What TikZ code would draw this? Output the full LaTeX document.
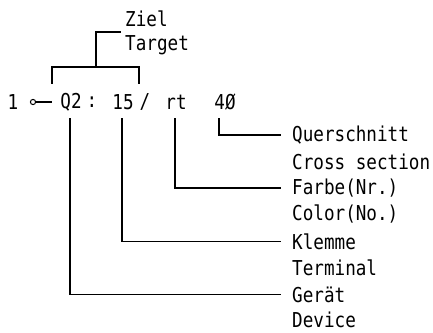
\documentclass[tikz,border=0pt]{standalone}
\usepackage{fontspec}
\setmainfont{DejaVu Sans Mono}[FakeStretch=0.86]
\begin{document}
\begin{tikzpicture}[x=1pt,y=-1pt,
  lbl/.style={anchor=west,inner sep=0pt,font=\fontsize{20.5}{23}\selectfont},
  txt/.style={anchor=center,inner sep=0pt,font=\fontsize{20.5}{23}\selectfont},
  ln/.style={line width=1.3pt,line cap=rect}]
\useasboundingbox (0,0) rectangle (433,332);
% top labels
\node[lbl] (ziel) at (125,18.5) {Ziel};
\node[lbl] (target) at (125,45) {Target};
% main row
\node[txt] (one) at (13,102) {1};
\draw[line width=1pt] (33,102) circle (2.6pt);
\coordinate (cl1) at (35.6,102);
\coordinate (cl2) at (52,102);
\draw[line width=1.3pt] (cl1) -- (cl2);
\node[txt] (q2) at (71,102) {Q2};
\node[txt] (colon) at (92,102) {:};
\node[txt] (n15) at (123,102) {15};
\node[txt] (slash) at (145,102) {/};
\node[txt] (rt) at (176,102) {rt};
\node[txt] (qs) at (225,102) {4Ø};
% bracket
\coordinate (bl) at (52,83);
\coordinate (br) at (139,83);
\coordinate (bm) at (96,67);
\coordinate (bt) at (96,32);
\coordinate (bz) at (120,32);
\draw[ln] (bl) |- (bm) -| (br);
\draw[ln] (bm) -- (bt) -- (bz);
% right labels
\node[lbl] (quer) at (292,135) {Querschnitt};
\node[lbl] (cross) at (292,161.5) {Cross section};
\node[lbl] (farbe) at (292,188) {Farbe(Nr.)};
\node[lbl] (color) at (292,214.5) {Color(No.)};
\node[lbl] (klemme) at (292,241.5) {Klemme};
\node[lbl] (term) at (292,268) {Terminal};
\node[lbl] (geraet) at (292,294.5) {Gerät};
\node[lbl] (device) at (292,320) {Device};
% leaders
\coordinate (a1) at (219,119);
\coordinate (a2) at (175,119);
\coordinate (a3) at (122,119);
\coordinate (a4) at (70,119);
\draw[ln] (a1) |- ([xshift=-12pt]quer.west);
\draw[ln] (a2) |- ([xshift=-12pt]farbe.west);
\draw[ln] (a3) |- ([xshift=-12pt]klemme.west);
\draw[ln] (a4) |- ([xshift=-12pt]geraet.west);
\end{tikzpicture}
\end{document}
